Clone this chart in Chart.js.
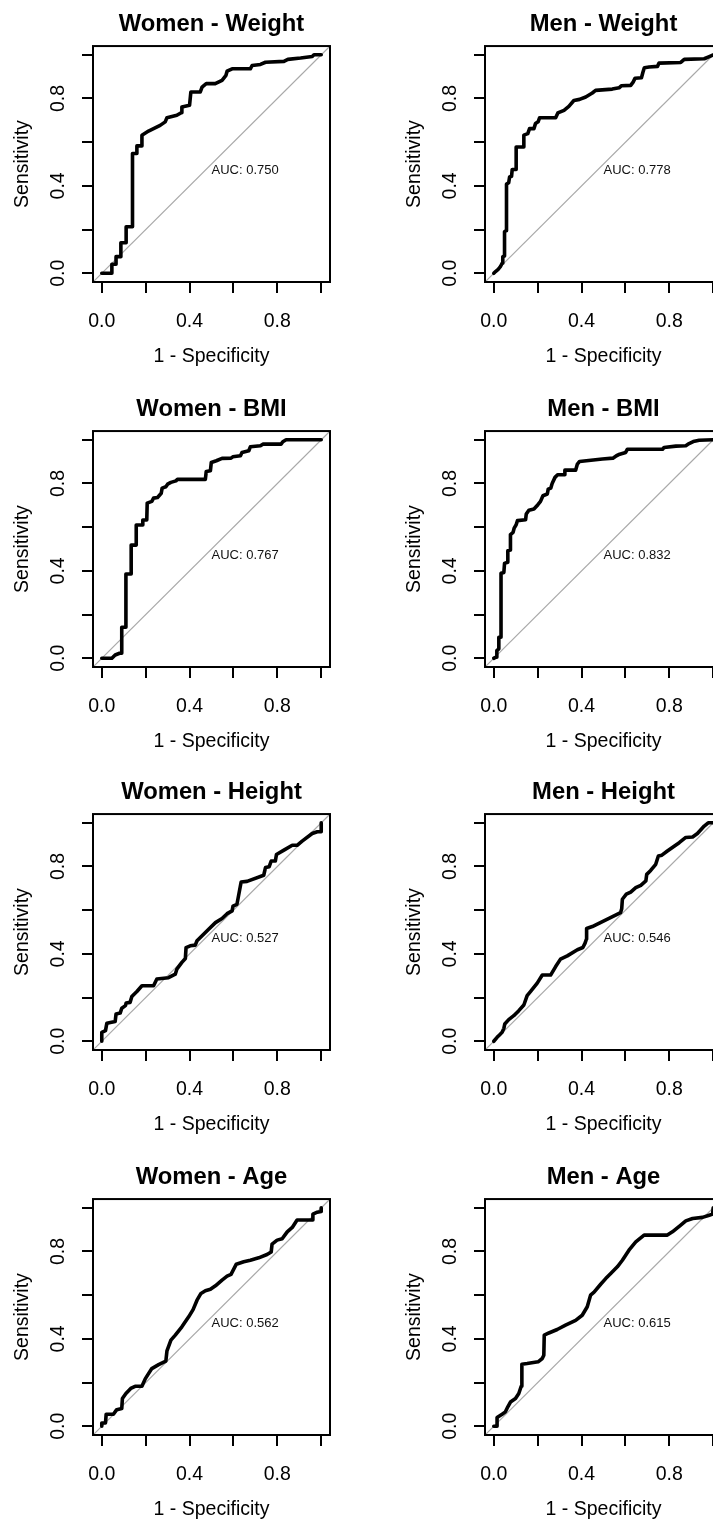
<!DOCTYPE html>
<html lang="en">
<head>
  <meta charset="UTF-8">
  <title>ROC curves by sex</title>
  <script src="https://cdn.jsdelivr.net/npm/chart.js"></script>
  <style>
    html, body {
      margin: 0;
      padding: 0;
      background: #fff;
      overflow: hidden;
    }
    body {
      position: relative;
      width: 713px;
      height: 1519px;
    }
    .panel {
      position: absolute;
      width: 356px;
      height: 380px;
    }
  </style>
</head>
<body>
  <div class="panel" style="left:0;top:0"><canvas id="roc0" width="356" height="380"></canvas></div>
  <div class="panel" style="left:392px;top:0"><canvas id="roc1" width="356" height="380"></canvas></div>
  <div class="panel" style="left:0;top:385px"><canvas id="roc2" width="356" height="380"></canvas></div>
  <div class="panel" style="left:392px;top:385px"><canvas id="roc3" width="356" height="380"></canvas></div>
  <div class="panel" style="left:0;top:768px"><canvas id="roc4" width="356" height="380"></canvas></div>
  <div class="panel" style="left:392px;top:768px"><canvas id="roc5" width="356" height="380"></canvas></div>
  <div class="panel" style="left:0;top:1153px"><canvas id="roc6" width="356" height="380"></canvas></div>
  <div class="panel" style="left:392px;top:1153px"><canvas id="roc7" width="356" height="380"></canvas></div>

  <script>
    // panel order: row by row, women left, men right
    const panelTitles = ['Women - Weight', 'Men - Weight', 'Women - BMI', 'Men - BMI',
                         'Women - Height', 'Men - Height', 'Women - Age', 'Men - Age'];
    const aucValues = [0.750, 0.778, 0.767, 0.832, 0.527, 0.546, 0.562, 0.615];

    const tickValues = [0, 0.2, 0.4, 0.6, 0.8, 1.0];
    const tickLabels = ['0.0', '', '0.4', '', '0.8', ''];
    const axisRange = [-0.04, 1.04];

    // 1 - specificity (x) and sensitivity (y)
    const womenWeightX = [0, 0.046, 0.046, 0.065, 0.065, 0.087, 0.087, 0.111, 0.111, 0.140, 0.140, 0.160, 0.160, 0.183, 0.183, 0.213, 0.236, 0.266, 0.289, 0.297, 0.342, 0.362, 0.365, 0.400, 0.406, 0.449, 0.457, 0.476, 0.517, 0.548, 0.566, 0.571, 0.594, 0.677, 0.685, 0.723, 0.746, 0.830, 0.848, 0.906, 0.959, 0.967, 1.0];
    const womenWeightY = [0, 0, 0.041, 0.041, 0.076, 0.076, 0.140, 0.140, 0.213, 0.213, 0.548, 0.548, 0.583, 0.583, 0.632, 0.651, 0.662, 0.677, 0.693, 0.712, 0.723, 0.735, 0.761, 0.769, 0.830, 0.830, 0.852, 0.868, 0.868, 0.883, 0.906, 0.925, 0.936, 0.936, 0.951, 0.956, 0.966, 0.970, 0.979, 0.985, 0.992, 1.0, 1.0];

    const menWeightX = [0, 0.008, 0.020, 0.030, 0.038, 0.041, 0.049, 0.049, 0.056, 0.058, 0.068, 0.072, 0.081, 0.084, 0.102, 0.102, 0.137, 0.137, 0.155, 0.163, 0.183, 0.190, 0.202, 0.209, 0.282, 0.292, 0.320, 0.342, 0.365, 0.391, 0.419, 0.449, 0.464, 0.540, 0.571, 0.581, 0.624, 0.635, 0.644, 0.673, 0.680, 0.686, 0.708, 0.746, 0.753, 0.852, 0.868, 0.959, 0.982, 1.0];
    const menWeightY = [0, 0.008, 0.018, 0.030, 0.046, 0.076, 0.079, 0.190, 0.195, 0.408, 0.414, 0.441, 0.444, 0.475, 0.475, 0.578, 0.578, 0.632, 0.639, 0.662, 0.662, 0.685, 0.693, 0.712, 0.712, 0.734, 0.746, 0.764, 0.791, 0.796, 0.807, 0.825, 0.837, 0.843, 0.849, 0.858, 0.860, 0.875, 0.893, 0.895, 0.921, 0.941, 0.944, 0.947, 0.962, 0.965, 0.979, 0.982, 0.992, 1.0];

    const womenBmiX = [0, 0.046, 0.061, 0.081, 0.091, 0.091, 0.110, 0.110, 0.134, 0.134, 0.157, 0.157, 0.186, 0.187, 0.205, 0.207, 0.228, 0.236, 0.254, 0.271, 0.275, 0.292, 0.300, 0.315, 0.338, 0.345, 0.472, 0.476, 0.495, 0.499, 0.522, 0.548, 0.589, 0.597, 0.632, 0.639, 0.670, 0.677, 0.723, 0.734, 0.817, 0.825, 0.840, 1.0];
    const womenBmiY = [0, 0, 0.015, 0.023, 0.023, 0.142, 0.142, 0.386, 0.386, 0.518, 0.518, 0.610, 0.610, 0.633, 0.633, 0.710, 0.718, 0.733, 0.736, 0.755, 0.779, 0.785, 0.797, 0.805, 0.812, 0.819, 0.819, 0.855, 0.858, 0.896, 0.904, 0.915, 0.916, 0.922, 0.927, 0.942, 0.950, 0.968, 0.973, 0.980, 0.980, 0.991, 1.0, 1.0];

    const menBmiX = [0, 0.011, 0.014, 0.023, 0.023, 0.033, 0.033, 0.046, 0.049, 0.061, 0.064, 0.076, 0.076, 0.088, 0.093, 0.102, 0.108, 0.145, 0.148, 0.160, 0.183, 0.201, 0.213, 0.224, 0.244, 0.248, 0.260, 0.266, 0.279, 0.291, 0.320, 0.324, 0.373, 0.381, 0.391, 0.422, 0.495, 0.543, 0.559, 0.574, 0.601, 0.609, 0.769, 0.776, 0.830, 0.875, 0.890, 0.909, 0.936, 1.0];
    const menBmiY = [0, 0.005, 0.035, 0.043, 0.096, 0.096, 0.389, 0.393, 0.434, 0.439, 0.492, 0.495, 0.566, 0.576, 0.596, 0.611, 0.630, 0.634, 0.660, 0.678, 0.683, 0.703, 0.718, 0.744, 0.752, 0.774, 0.779, 0.800, 0.828, 0.840, 0.840, 0.861, 0.861, 0.889, 0.901, 0.904, 0.912, 0.916, 0.927, 0.934, 0.942, 0.957, 0.957, 0.965, 0.971, 0.973, 0.983, 0.992, 0.998, 1.0];

    const womenHeightX = [0, 0, 0.017, 0.023, 0.061, 0.065, 0.084, 0.091, 0.108, 0.111, 0.129, 0.137, 0.160, 0.183, 0.236, 0.251, 0.304, 0.335, 0.342, 0.365, 0.381, 0.384, 0.403, 0.426, 0.434, 0.487, 0.518, 0.548, 0.571, 0.594, 0.598, 0.616, 0.635, 0.662, 0.738, 0.746, 0.763, 0.772, 0.791, 0.796, 0.830, 0.868, 0.890, 0.913, 0.959, 0.982, 1.0, 1.0];
    const womenHeightY = [0, 0.041, 0.049, 0.082, 0.090, 0.125, 0.129, 0.151, 0.163, 0.175, 0.178, 0.205, 0.228, 0.254, 0.254, 0.285, 0.291, 0.307, 0.330, 0.361, 0.379, 0.429, 0.437, 0.440, 0.460, 0.513, 0.543, 0.562, 0.584, 0.597, 0.619, 0.627, 0.729, 0.732, 0.760, 0.795, 0.799, 0.825, 0.825, 0.855, 0.875, 0.897, 0.897, 0.916, 0.951, 0.959, 0.959, 1.0];

    const menHeightX = [0, 0.015, 0.026, 0.038, 0.046, 0.050, 0.068, 0.091, 0.114, 0.137, 0.152, 0.167, 0.198, 0.221, 0.259, 0.282, 0.304, 0.335, 0.381, 0.406, 0.416, 0.422, 0.423, 0.449, 0.525, 0.578, 0.583, 0.586, 0.604, 0.624, 0.647, 0.670, 0.693, 0.697, 0.715, 0.738, 0.750, 0.766, 0.791, 0.822, 0.845, 0.875, 0.906, 0.928, 0.959, 0.977, 1.0];
    const menHeightY = [0, 0.018, 0.029, 0.041, 0.059, 0.079, 0.099, 0.117, 0.140, 0.166, 0.209, 0.227, 0.266, 0.303, 0.303, 0.342, 0.376, 0.391, 0.419, 0.429, 0.449, 0.467, 0.516, 0.525, 0.562, 0.589, 0.607, 0.650, 0.673, 0.683, 0.703, 0.714, 0.734, 0.764, 0.782, 0.810, 0.848, 0.852, 0.871, 0.893, 0.909, 0.933, 0.935, 0.951, 0.985, 1.0, 1.0];

    const womenAgeX = [0, 0, 0.017, 0.020, 0.053, 0.068, 0.091, 0.094, 0.110, 0.132, 0.152, 0.183, 0.198, 0.213, 0.228, 0.259, 0.292, 0.297, 0.315, 0.335, 0.365, 0.396, 0.416, 0.434, 0.452, 0.472, 0.495, 0.518, 0.548, 0.571, 0.589, 0.613, 0.647, 0.677, 0.715, 0.753, 0.772, 0.776, 0.799, 0.822, 0.845, 0.868, 0.890, 0.959, 0.962, 0.982, 1.0, 1.0];
    const womenAgeY = [0, 0.015, 0.015, 0.055, 0.055, 0.076, 0.081, 0.127, 0.150, 0.173, 0.183, 0.183, 0.217, 0.241, 0.264, 0.282, 0.298, 0.345, 0.394, 0.417, 0.455, 0.501, 0.534, 0.577, 0.608, 0.620, 0.627, 0.643, 0.669, 0.687, 0.695, 0.742, 0.753, 0.760, 0.771, 0.786, 0.798, 0.834, 0.852, 0.858, 0.890, 0.910, 0.944, 0.944, 0.971, 0.980, 0.983, 1.0];

    const menAgeX = [0, 0.015, 0.015, 0.038, 0.053, 0.064, 0.076, 0.099, 0.114, 0.125, 0.128, 0.152, 0.202, 0.221, 0.228, 0.230, 0.251, 0.289, 0.327, 0.373, 0.403, 0.426, 0.441, 0.457, 0.487, 0.510, 0.533, 0.563, 0.586, 0.616, 0.647, 0.685, 0.791, 0.814, 0.852, 0.875, 0.906, 0.951, 0.982, 0.997, 1.0];
    const menAgeY = [0, 0, 0.040, 0.055, 0.066, 0.089, 0.111, 0.127, 0.150, 0.183, 0.284, 0.287, 0.295, 0.310, 0.325, 0.417, 0.427, 0.443, 0.463, 0.485, 0.508, 0.547, 0.600, 0.614, 0.650, 0.676, 0.699, 0.730, 0.760, 0.806, 0.844, 0.875, 0.875, 0.890, 0.921, 0.940, 0.951, 0.956, 0.966, 0.971, 1.0];

    const curvesX = [womenWeightX, menWeightX, womenBmiX, menBmiX, womenHeightX, menHeightX, womenAgeX, menAgeX];
    const curvesY = [womenWeightY, menWeightY, womenBmiY, menBmiY, womenHeightY, menHeightY, womenAgeY, menAgeY];

    const FONT = "'Liberation Sans', Arial, Helvetica, sans-serif";

    // frame around the plot region plus the AUC note
    const boxAndAuc = {
      id: 'boxAndAuc',
      afterDatasetsDraw(chart, args, opts) {
        const { ctx, chartArea: a } = chart;
        const xs = chart.scales.x, ys = chart.scales.y;
        ctx.save();
        ctx.strokeStyle = '#000';
        ctx.lineWidth = 2;
        ctx.strokeRect(a.left, a.top, a.right - a.left, a.bottom - a.top);
        ctx.font = '13px ' + FONT;
        ctx.fillStyle = '#111';
        ctx.textAlign = 'left';
        ctx.textBaseline = 'middle';
        ctx.fillText('AUC: ' + opts.auc.toFixed(3), xs.getPixelForValue(0.5), ys.getPixelForValue(0.5) + 6);
        ctx.restore();
      }
    };

    function axisOptions(axis, label) {
      const isX = axis === 'x';
      return {
        type: 'linear',
        min: axisRange[0],
        max: axisRange[1],
        afterBuildTicks: s => { s.ticks = tickValues.map(v => ({ value: v })); },
        afterFit: s => { if (isX) s.height = 98; else s.width = 93; },
        border: { display: false },
        grid: { drawOnChartArea: false, drawTicks: true, tickLength: 11, color: '#000', lineWidth: 2 },
        ticks: {
          autoSkip: false,
          color: '#000',
          font: { family: FONT, size: 19.5 },
          padding: isX ? 16.5 : 9.5,
          minRotation: isX ? 0 : 90,
          maxRotation: isX ? 0 : 90,
          crossAlign: isX ? 'near' : 'center',
          callback: (v, i) => tickLabels[i]
        },
        title: {
          display: true,
          text: label,
          color: '#000',
          font: { family: FONT, size: 19.5 },
          padding: isX ? { top: 0, bottom: 12 } : { top: 11, bottom: 0 }
        }
      };
    }

    panelTitles.forEach((title, i) => {
      const roc = curvesX[i].map((x, k) => ({ x: x, y: curvesY[i][k] }));
      const diagonal = axisRange.map(v => ({ x: v, y: v }));

      new Chart(document.getElementById('roc' + i), {
        type: 'scatter',
        data: {
          datasets: [{
            data: roc,
            showLine: true,
            borderColor: '#000',
            borderWidth: 3.6,
            borderCapStyle: 'round',
            borderJoinStyle: 'round',
            pointRadius: 0,
            tension: 0
          }, {
            data: diagonal,
            showLine: true,
            borderColor: '#a9a9a9',
            borderWidth: 1.2,
            pointRadius: 0
          }]
        },
        options: {
          responsive: false,
          animation: false,
          devicePixelRatio: 1,
          layout: { padding: { left: 0, top: 0, right: 26, bottom: 0 } },
          plugins: {
            legend: { display: false },
            tooltip: { enabled: false },
            title: {
              display: true,
              text: title,
              color: '#000',
              fullSize: false,
              font: { family: FONT, size: 23.8, weight: 'bold', lineHeight: 1.2 },
              padding: { top: 10, bottom: 7.5 }
            },
            boxAndAuc: { auc: aucValues[i] }
          },
          scales: {
            x: axisOptions('x', '1 - Specificity'),
            y: axisOptions('y', 'Sensitivity')
          }
        },
        plugins: [boxAndAuc]
      });
    });
  </script>
</body>
</html>
